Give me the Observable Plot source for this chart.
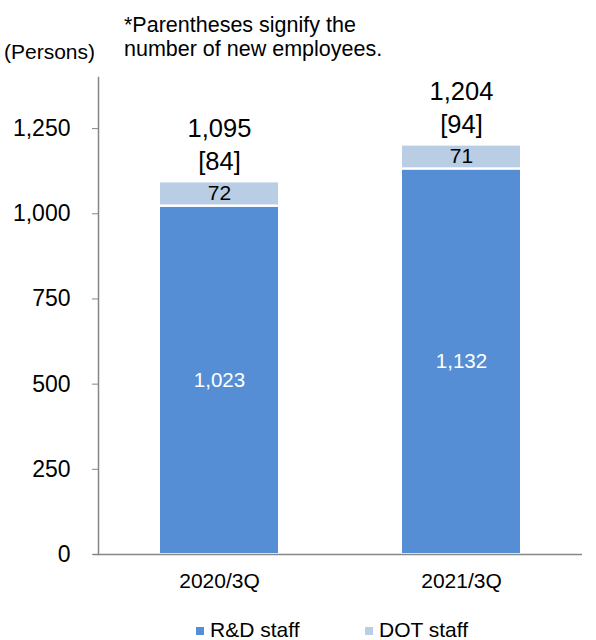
<!DOCTYPE html>
<html>
<head>
<meta charset="utf-8">
<script src="https://cdn.jsdelivr.net/npm/d3@7"></script>
<script src="https://cdn.jsdelivr.net/npm/@observablehq/plot@0.6"></script>
<style>
  body { margin: 0; background: #fff; font-family: "Liberation Sans", Arial, sans-serif; }
  #wrap { position: relative; width: 596px; height: 640px; overflow: hidden; }
  #chart { position: absolute; left: 0; top: 0; }
  .note { position: absolute; font-size: 21.5px; line-height: 24px; color: #000; white-space: nowrap; }
  .leg { position: absolute; font-size: 21px; line-height: 24px; color: #000; white-space: nowrap; }
  .sw { position: absolute; width: 8px; height: 8px; }
</style>
</head>
<body>
<div id="wrap">
  <div id="chart"></div>
  <div class="note" style="left:4px; top:40px; font-size:21px;">(Persons)</div>
  <div class="note" style="left:124px; top:13px;">*Parentheses signify the<br>number of new employees.</div>
  <div id="legend"></div>
</div>
<script>
const periods = ["2020/3Q", "2021/3Q"];
const rdStaff = [1023, 1132];
const dotStaff = [72, 71];
const totals = [1095, 1204];
const newHires = [84, 94];
const yTicks = [0, 250, 500, 750, 1000, 1250];
const seriesNames = ["R&D staff", "DOT staff"];
const seriesColors = ["#558ED5", "#B9CDE5"];

const fmt = d3.format(",");
const rows = periods.flatMap((p, i) => [
  {period: p, type: seriesNames[0], value: rdStaff[i]},
  {period: p, type: seriesNames[1], value: dotStaff[i]}
]);
const totalRows = periods.map((p, i) => ({period: p, total: totals[i], hires: newHires[i]}));
const axisGray = "#868686";

const chart = Plot.plot({
  width: 596,
  height: 640,
  marginTop: 77,
  marginBottom: 86,
  marginLeft: 98,
  marginRight: 14,
  style: {fontFamily: '"Liberation Sans", Arial, sans-serif', color: "#000", background: "#fff"},
  x: {domain: periods, paddingInner: 0.512, paddingOuter: 0.256, label: null},
  y: {domain: [0, 1400], label: null},
  color: {domain: seriesNames, range: seriesColors},
  marks: [
    Plot.barY(rows, {x: "period", y: "value", fill: "type", insetTop: 1.5, insetBottom: 1}),
    Plot.text(rows.filter(d => d.type === seriesNames[0]), Plot.stackY({x: "period", y: "value", text: d => fmt(d.value), fill: "white", fontSize: 20.5})),
    Plot.text(rows, Plot.stackY({x: "period", y: "value", text: d => d.type === seriesNames[1] ? fmt(d.value) : "", fill: "black", fontSize: 21})),
    Plot.text(totalRows, {x: "period", y: "total", text: d => `${fmt(d.total)}\n[${d.hires}]`, lineAnchor: "bottom", lineHeight: 1.32, dy: -11, fontSize: 25.5, fill: "black"}),
    Plot.frame({anchor: "left", stroke: axisGray, strokeWidth: 1.5}),
    Plot.ruleY([0], {stroke: axisGray, strokeWidth: 1.5, insetLeft: -5}),
    Plot.axisY({ticks: yTicks, tickFormat: fmt, tickSize: 6, tickPadding: 22, stroke: axisGray, fill: "black", fontSize: 23, label: null}),
    Plot.axisX({tickSize: 0, tickPadding: 19, fill: "black", fontSize: 21, label: null})
  ]
});
document.getElementById("chart").appendChild(chart);

const legend = document.getElementById("legend");
const legX = [196, 365];
seriesNames.forEach((name, i) => {
  const sw = document.createElement("div");
  sw.className = "sw";
  sw.style.left = legX[i] + "px";
  sw.style.top = "627px";
  sw.style.background = seriesColors[i];
  legend.appendChild(sw);
  const t = document.createElement("div");
  t.className = "leg";
  t.style.left = (legX[i] + 14) + "px";
  t.style.top = "618px";
  t.textContent = name;
  legend.appendChild(t);
});
</script>
</body>
</html>
